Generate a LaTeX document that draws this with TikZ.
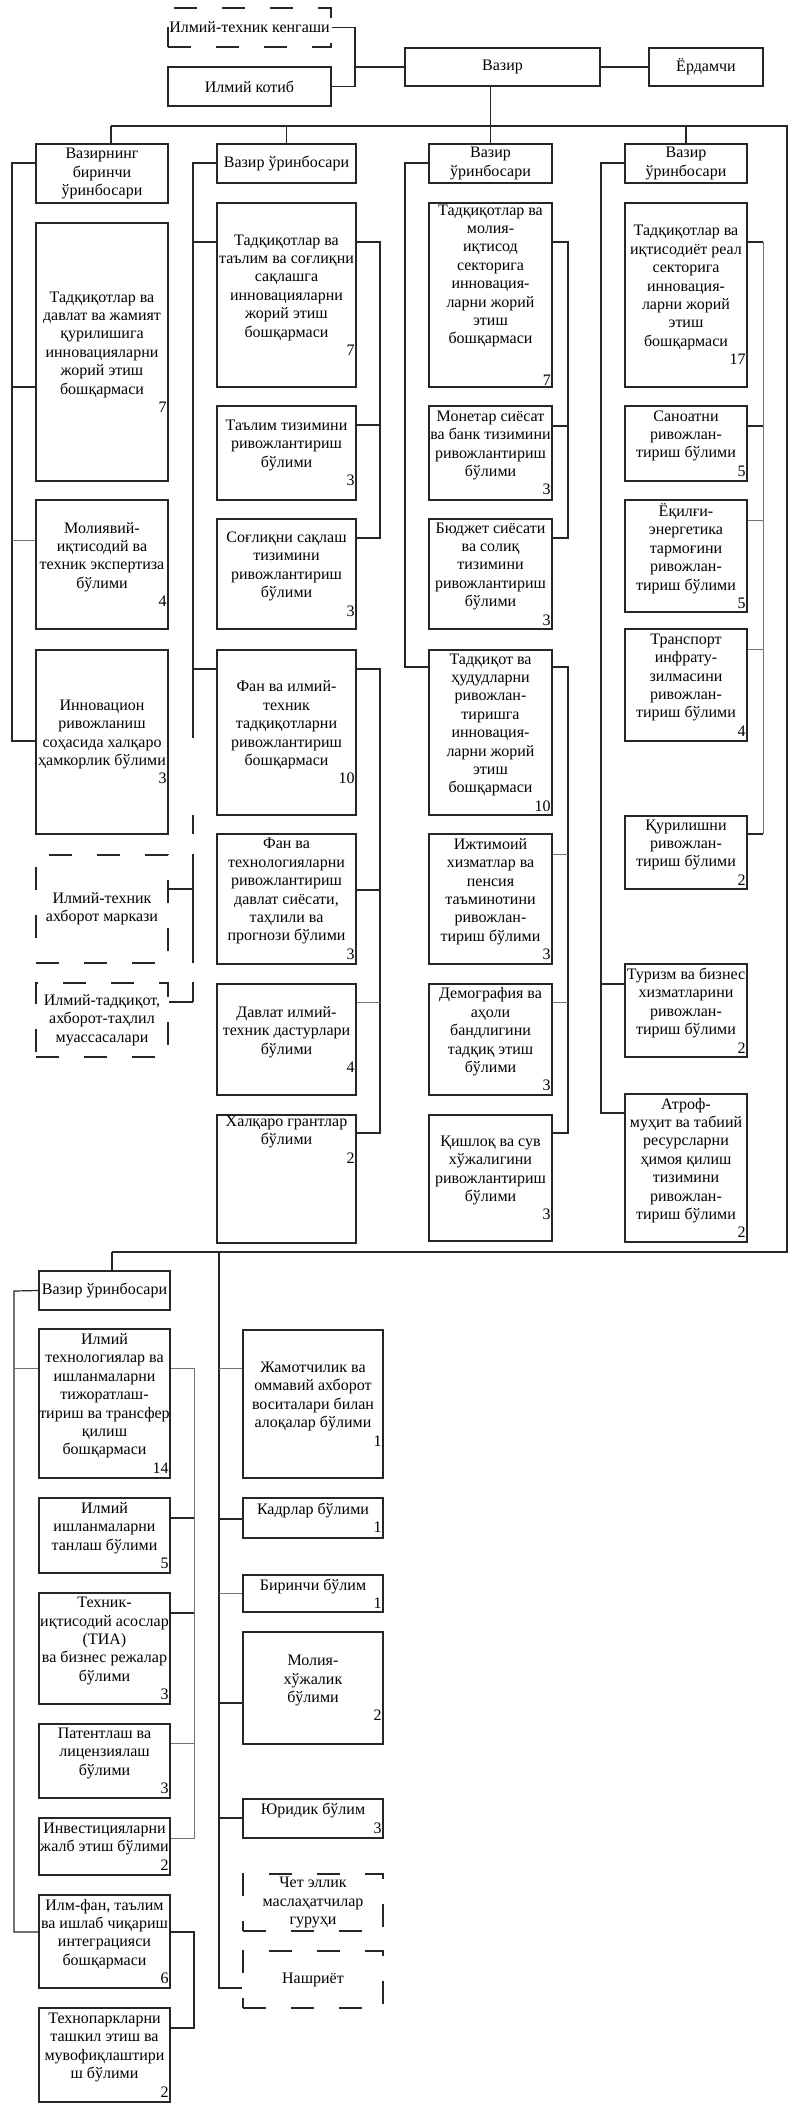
\documentclass[tikz,border=0pt]{standalone}
\usepackage{fontspec}
\setmainfont{Liberation Serif}
\newlength{\bw}
\newcommand{\nb}[1]{\makebox[\bw][r]{#1}}
\tikzset{
  ubx/.style={draw=black!85, line width=0.85pt, inner sep=0pt, align=center,
    font=\fontsize{12}{13.8}\selectfont, text=black},
  dbx/.style={dash pattern=on 17pt off 19pt},
  txt/.style={inner sep=0pt, align=center, font=\fontsize{12}{13.8}\selectfont, text=black},
  conn/.style={draw=black!85, line width=0.9pt},
  connt/.style={draw=black!55, line width=0.6pt}
}
\newcommand{\ubox}[7][]{%
  \pgfmathsetlength{\bw}{(#5-#3)*0.75pt-2pt}%
  \node[ubx,#1,minimum width={(#5-#3)*0.75pt},minimum height={(#6-#4)*0.75pt}] (#2) at ({(#3+#5)/2},{(#4+#6)/2}) {#7};}
\begin{document}
\begin{tikzpicture}[x=0.75pt,y=-0.75pt]
\fill[white] (0,0) rectangle (798,2112);
\useasboundingbox (0,0) rectangle (798,2112);

% ---------- top ----------
\ubox[dbx]{ken}{168}{8}{331}{47}{Илмий-техник кенгаши}
\ubox{kot}{168}{67}{331}{106}{Илмий котиб}
\ubox{vaz}{405}{48}{600}{86}{Вазир}
\ubox{yor}{649}{48}{763}{86}{Ёрдамчи}
\coordinate (kj) at (355,67);
\draw[conn] (ken.east) -| (kj) |- (kot.east);
\draw[conn] (kj) -- (vaz.west);
\draw[conn] (vaz.east) -- (yor.west);

% ---------- column 1 ----------
\ubox{h1}{36}{144}{168}{203}{Вазирнинг\\биринчи\\ўринбосари}
\ubox{c1b1}{36}{223}{168}{481}{Тадқиқотлар ва\\давлат ва жамият\\қурилишига\\инновацияларни\\жорий этиш\\бошқармаси\\\nb{7}}
\ubox{c1b2}{36}{500}{168}{629}{Молиявий-\\иқтисодий ва\\техник экспертиза\\бўлими\\\nb{4}}
\ubox{c1b3}{36}{650}{168}{834}{Инновацион\\ривожланиш\\соҳасида халқаро\\ҳамкорлик бўлими\\\nb{3}}
\ubox[dbx]{c1d1}{36}{855}{168}{963}{Илмий-техник\\ахборот маркази}
\ubox[dbx]{c1d2}{36}{983}{168}{1057}{Илмий-тадқиқот,\\ахборот-таҳлил\\муассасалари}

% ---------- column 2 ----------
\ubox{h2}{217}{144}{356}{183}{Вазир ўринбосари}
\ubox{c2b1}{217}{203}{356}{387}{Тадқиқотлар ва\\таълим ва соғлиқни\\сақлашга\\инновацияларни\\жорий этиш\\бошқармаси\\\nb{7}}
\ubox{c2b2}{217}{406}{356}{500}{Таълим тизимини\\ривожлантириш\\бўлими\\\nb{3}}
\ubox{c2b3}{217}{519}{356}{629}{Соғлиқни сақлаш\\тизимини\\ривожлантириш\\бўлими\\\nb{3}}
\ubox{c2b4}{217}{650}{356}{815}{Фан ва илмий-\\техник\\тадқиқотларни\\ривожлантириш\\бошқармаси\\\nb{10}}
\ubox{c2b5}{217}{834}{356}{964}{Фан ва\\технологияларни\\ривожлантириш\\давлат сиёсати,\\таҳлили ва\\прогнози бўлими\\\nb{3}}
\ubox{c2b6}{217}{984}{356}{1095}{Давлат илмий-\\техник дастурлари\\бўлими\\\nb{4}}
\ubox{c2b7}{217}{1115}{356}{1243}{}
\node[txt,anchor=north] (c2b7t) at ([yshift=-1pt]c2b7.north) {Халқаро грантлар\\бўлими\\\nb{2}};

% ---------- column 3 ----------
\ubox{h3}{429}{144}{552}{183}{Вазир\\ўринбосари}
\ubox{c3b1}{429}{203}{552}{387}{}
\node[txt,anchor=north] (c3b1t) at ([yshift=-1.5pt]c3b1.north) {Тадқиқотлар ва\\молия-\\иқтисод\\секторига\\инновация-\\ларни жорий\\этиш\\бошқармаси};
\node[txt,anchor=south east] (c3b1n) at ([xshift=-1pt,yshift=1.5pt]c3b1.south east) {7};
\ubox{c3b2}{429}{406}{552}{500}{Монетар сиёсат\\ва банк тизимини\\ривожлантириш\\бўлими\\\nb{3}}
\ubox{c3b3}{429}{519}{552}{629}{Бюджет сиёсати\\ва солиқ\\тизимини\\ривожлантириш\\бўлими\\\nb{3}}
\ubox{c3b4}{429}{650}{552}{815}{Тадқиқот ва\\ҳудудларни\\ривожлан-\\тиришга\\инновация-\\ларни жорий\\этиш\\бошқармаси\\\nb{10}}
\ubox{c3b5}{429}{834}{552}{964}{Ижтимоий\\хизматлар ва\\пенсия\\таъминотини\\ривожлан-\\тириш бўлими\\\nb{3}}
\ubox{c3b6}{429}{984}{552}{1095}{Демография ва\\аҳоли\\бандлигини\\тадқиқ этиш\\бўлими\\\nb{3}}
\ubox{c3b7}{429}{1115}{552}{1241}{Қишлоқ ва сув\\хўжалигини\\ривожлантириш\\бўлими\\\nb{3}}

% ---------- column 4 ----------
\ubox{h4}{625}{144}{747}{183}{Вазир\\ўринбосари}
\ubox{c4b1}{625}{203}{747}{387}{Тадқиқотлар ва\\иқтисодиёт реал\\секторига\\инновация-\\ларни жорий\\этиш\\бошқармаси\\\nb{17}}
\ubox{c4b2}{625}{406}{747}{481}{Саноатни\\ривожлан-\\тириш бўлими\\\nb{5}}
\ubox{c4b3}{625}{500}{747}{612}{Ёқилғи-\\энергетика\\тармоғини\\ривожлан-\\тириш бўлими\\\nb{5}}
\ubox{c4b4}{625}{629}{747}{741}{Транспорт\\инфрату-\\зилмасини\\ривожлан-\\тириш бўлими\\\nb{4}}
\ubox{c4b5}{625}{816}{747}{889}{Қурилишни\\ривожлан-\\тириш бўлими\\\nb{2}}
\ubox{c4b6}{625}{964}{747}{1057}{Туризм ва бизнес\\хизматларини\\ривожлан-\\тириш бўлими\\\nb{2}}
\ubox{c4b7}{625}{1094}{747}{1242}{Атроф-\\муҳит ва табиий\\ресурсларни\\ҳимоя қилиш\\тизимини\\ривожлан-\\тириш бўлими\\\nb{2}}

% ---------- bottom left ----------
\ubox{h5}{39}{1271}{170}{1310}{Вазир ўринбосари}
\ubox{c5b1}{39}{1329}{170}{1478}{Илмий\\технологиялар ва\\ишланмаларни\\тижоратлаш-\\тириш ва трансфер\\қилиш\\бошқармаси\\\nb{14}}
\ubox{c5b2}{39}{1498}{170}{1573}{Илмий\\ишланмаларни\\танлаш бўлими\\\nb{5}}
\ubox{c5b3}{39}{1593}{170}{1704}{Техник-\\иқтисодий асослар\\(ТИА)\\ва бизнес режалар\\бўлими\\\nb{3}}
\ubox{c5b4}{39}{1724}{170}{1798}{Патентлаш ва\\лицензиялаш\\бўлими\\\nb{3}}
\ubox{c5b5}{39}{1818}{170}{1875}{Инвестицияларни\\жалб этиш бўлими\\\nb{2}}
\ubox{c5b6}{39}{1895}{170}{1988}{Илм-фан, таълим\\ва ишлаб чиқариш\\интеграцияси\\бошқармаси\\\nb{6}}
\ubox{c5b7}{39}{2008}{170}{2102}{Технопаркларни\\ташкил этиш ва\\мувофиқлаштири\\ш бўлими\\\nb{2}}

% ---------- bottom middle ----------
\ubox{s1}{243}{1330}{383}{1478}{Жамотчилик ва\\оммавий ахборот\\воситалари билан\\алоқалар бўлими\\\nb{1}}
\ubox{s2}{243}{1498}{383}{1538}{Кадрлар бўлими\\\nb{1}}
\ubox{s3}{243}{1575}{383}{1612}{Биринчи бўлим\\\nb{1}}
\ubox{s4}{243}{1632}{383}{1744}{Молия-\\хўжалик\\бўлими\\\nb{2}}
\ubox{s5}{243}{1799}{383}{1838}{Юридик бўлим\\\nb{3}}
\ubox[dbx]{s6}{243}{1874}{383}{1931}{Чет эллик\\маслаҳатчилар\\гуруҳи}
\ubox[dbx]{s7}{243}{1951}{383}{2008}{Нашриёт}

% ---------- buses ----------
\coordinate (b1) at (111,126);
\coordinate (b2) at (787,126);
\coordinate (b3) at (787,1252);
\coordinate (b4) at (112,1252);
\draw[conn] (b1) -- (b2) -- (b3) -- (b4);
\draw[conn] (b1) -- (b1 |- h1.north);
\draw[conn] (h2.north |- b1) -- (h2.north);
\draw[conn] (h3.north |- vaz.south) -- (h3.north);
\draw[conn] (h4.north |- b1) -- (h4.north);
\draw[conn] (b4) -- (b4 |- h5.north);

% ---------- column 1 links ----------
\draw[conn] (h1.west |- 0,163) -- (12,163) -- (12,741) -- (c1b3.west |- 0,741);
\draw[conn] (12,387) -- (c1b1.west |- 0,387);
\draw[connt] (12,540) -- (c1b2.west |- 0,540);

% ---------- column 2 links ----------
\draw[conn] (h2.west |- 0,163) -- (193,163) -- (193,738);
\draw[conn] (193,242) -- (c2b1.west |- 0,242);
\draw[conn] (193,669) -- (c2b4.west |- 0,669);
\draw[conn] (193,815) -- (193,834);
\draw[conn] (193,854) -- (193,963);
\draw[conn] (193,982) -- (193,1002);
\draw[conn] (c1d1.east |- 0,889) -- (193,889);
\draw[conn] (c1d2.east |- 0,1002) -- (193,1002);
\draw[conn] (c2b1.east |- 0,242) -- (380,242) -- (380,538) -- (c2b3.east |- 0,538);
\draw[conn] (380,425) -- (c2b2.east |- 0,425);
\draw[conn] (c2b4.east |- 0,669) -- (380,669) -- (380,1133) -- (c2b7.east |- 0,1133);
\draw[conn] (380,890) -- (c2b5.east |- 0,890);
\draw[connt] (380,1002) -- (c2b6.east |- 0,1002);

% ---------- column 3 links ----------
\draw[conn] (h3.west |- 0,163) -- (405,163) -- (405,667) -- (c3b4.west |- 0,667);
\draw[conn] (c3b1.east |- 0,242) -- (568,242) -- (568,538) -- (c3b3.east |- 0,538);
\draw[conn] (568,426) -- (c3b2.east |- 0,426);
\draw[conn] (c3b4.east |- 0,667) -- (568,667) -- (568,1133) -- (c3b7.east |- 0,1133);
\draw[connt] (568,854) -- (c3b5.east |- 0,854);
\draw[connt] (568,1002) -- (c3b6.east |- 0,1002);

% ---------- column 4 links ----------
\draw[conn] (h4.west |- 0,163) -- (601,163) -- (601,1113) -- (c4b7.west |- 0,1113);
\draw[conn] (601,984) -- (c4b6.west |- 0,984);
\draw[conn] (c4b1.east |- 0,242) -- (763,242);
\draw[connt] (763,242) -- (763,834);
\draw[conn] (763,426) -- (c4b2.east |- 0,426);
\draw[connt] (763,520) -- (c4b3.east |- 0,520);
\draw[connt] (763,649) -- (c4b4.east |- 0,649);
\draw[conn] (763,834) -- (c4b5.east |- 0,834);

% ---------- bottom left links ----------
\draw[conn] (h5.west) -- (14,1291) -- (14,1932) -- (c5b6.west |- 0,1932);
\draw[connt] (14,1368) -- (c5b1.west |- 0,1368);
\draw[connt] (c5b1.east |- 0,1368) -- (194,1368) -- (194,1838) -- (c5b5.east |- 0,1838);
\draw[conn] (194,1518) -- (c5b2.east |- 0,1518);
\draw[conn] (194,1613) -- (c5b3.east |- 0,1613);
\draw[connt] (194,1743) -- (c5b4.east |- 0,1743);
\draw[conn] (c5b6.east |- 0,1932) -- (194,1932) -- (194,2028) -- (c5b7.east |- 0,2028);

% ---------- bottom middle links ----------
\draw[conn] (219,1252) -- (219,1988) -- (s7.west |- 0,1988);
\draw[connt] (219,1368) -- (s1.west |- 0,1368);
\draw[conn] (219,1519) -- (s2.west |- 0,1519);
\draw[connt] (219,1593) -- (s3.west |- 0,1593);
\draw[conn] (219,1703) -- (s4.west |- 0,1703);
\draw[conn] (219,1818) -- (s5.west |- 0,1818);
\end{tikzpicture}
\end{document}
